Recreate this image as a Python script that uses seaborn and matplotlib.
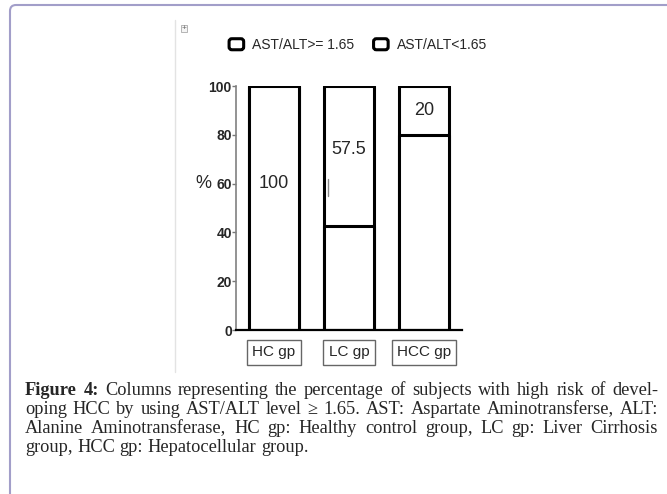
import matplotlib
matplotlib.use("Agg")
import matplotlib.pyplot as plt
import seaborn as sns
import pandas as pd
from matplotlib.patches import FancyBboxPatch, Rectangle, Patch
from matplotlib.lines import Line2D
from matplotlib.legend_handler import HandlerPatch
from matplotlib.transforms import IdentityTransform

# ---------------- data ----------------
groups = ["HC gp", "LC gp", "HCC gp"]
high_ratio = [100, 42.5, 80]          # AST/ALT >= 1.65 (lower segment)
low_ratio = [0, 57.5, 20]             # AST/ALT < 1.65 (upper segment)
bar_labels = ["100", "57.5", "20"]
series_names = ["AST/ALT>= 1.65", "AST/ALT<1.65"]
yticks = [0, 20, 40, 60, 80, 100]

caption_lines = [
    "Figure 4: Columns representing the percentage of subjects with high risk of devel-",
    "oping HCC by using AST/ALT level \u2265 1.65. AST: Aspartate Aminotransferse, ALT:",
    "Alanine Aminotransferase, HC gp: Healthy control group, LC gp: Liver Cirrhosis",
    "group, HCC gp: Hepatocellular group.",
]

# ---------------- figure ----------------
sns.set_theme(style="white")
plt.rcParams["font.family"] = ["Liberation Sans", "DejaVu Sans"]

W, H = 667, 494
fig = plt.figure(figsize=(W / 100, H / 100), dpi=100)
fig.patch.set_facecolor("white")

def fx(px):
    return px / W

def fy(py):
    return 1 - py / H

ax_l, ax_r, ax_t, ax_b = 236, 462, 86, 330
ax = fig.add_axes([fx(ax_l), fy(ax_b), fx(ax_r - ax_l), (ax_b - ax_t) / H])
ax.set_facecolor("white")

df = pd.DataFrame({
    "group": groups,
    "total": [a + b for a, b in zip(high_ratio, low_ratio)],
    "bottom": high_ratio,
})

bar_w = 50 / 75
lw = 2.2
sns.barplot(data=df, x="group", y="total", color="white", saturation=1,
            edgecolor="black", linewidth=lw, width=bar_w, ax=ax, zorder=2)
sns.barplot(data=df, x="group", y="bottom", color="white", saturation=1,
            edgecolor="black", linewidth=lw, width=bar_w, ax=ax, zorder=3)
for p in ax.patches:
    p.set_joinstyle("round")

ax.set_xlim(-0.507, 2.507)
ax.set_ylim(0, 100)
ax.set_yticks(yticks)
ax.set_yticklabels([str(v) for v in yticks], fontweight="bold", fontsize=10)
ax.tick_params(axis="y", length=3, width=1, color="#777777", pad=0, left=True)
ax.tick_params(axis="x", length=0, pad=11)
ax.set_xlabel("")
ax.set_ylabel("%", rotation=0, fontsize=13, va="center", ha="center")
ax.yaxis.set_label_coords(-0.145, 0.6)

for lab in ax.get_xticklabels():
    lab.set_fontsize(11)
    lab.set_bbox(dict(boxstyle="square,pad=0.35", fc="white", ec="#666666", lw=1))

for s in ["top", "right"]:
    ax.spines[s].set_visible(False)
ax.spines["left"].set_color("#808080")
ax.spines["left"].set_linewidth(1.2)
ax.spines["bottom"].set_color("black")
ax.spines["bottom"].set_linewidth(1.6)
ax.spines["bottom"].set_zorder(5)

# value labels inside bars
label_y = [60, 74, 90]
for i, (txt, yv) in enumerate(zip(bar_labels, label_y)):
    ax.text(i, yv, txt, ha="center", va="center", fontsize=13, zorder=6)

# small stray mark inside LC bar
fig.add_artist(Line2D([fx(328), fx(328)], [fy(179), fy(196)], color="#888888", lw=1))

# ---------------- legend ----------------
class RoundBox(HandlerPatch):
    def create_artists(self, legend, orig_handle, xdescent, ydescent,
                       width, height, fontsize, trans):
        p = FancyBboxPatch((-xdescent + 1.5, -ydescent + 0.5), width - 3, height - 1,
                           boxstyle="round,pad=0,rounding_size=2",
                           fc="white", ec="black", lw=2.2, transform=trans)
        return [p]

handles = [Patch(fc="white", ec="black", label=n) for n in series_names]
fig.legend(handles=handles, loc="center left", bbox_to_anchor=(fx(227), fy(45)),
           ncol=2, frameon=False, fontsize=10, borderpad=0, borderaxespad=0,
           handlelength=1.35, handleheight=1.0, handletextpad=0.45,
           columnspacing=1.25, handler_map={Patch: RoundBox()})

# ---------------- decorations ----------------
border = FancyBboxPatch((10, -30), 720, H - 5 + 30, boxstyle="round,pad=0,rounding_size=6",
                        fc="none", ec="#a29ec9", lw=1.5, transform=IdentityTransform())
fig.add_artist(border)

fig.add_artist(Line2D([fx(175), fx(175)], [fy(20), fy(372)], color="#e3e3e3", lw=1))
fig.add_artist(Rectangle((fx(181), fy(32)), fx(6), 7 / H, fc="#f4f4f4", ec="#aaaaaa", lw=0.6))
fig.text(fx(184), fy(28.5), "+", fontsize=6, ha="center", va="center", color="#666666")

# ---------------- caption (justified) ----------------
renderer = fig.canvas.get_renderer()
cap_left, cap_right = 25, 658
baselines = [395, 414, 433, 452]
cap_size = 13.2
serif = ["Liberation Serif", "DejaVu Serif"]

for li, (line, base) in enumerate(zip(caption_lines, baselines)):
    words = line.split(" ")
    arts = []
    for wi, w in enumerate(words):
        bold = (li == 0 and wi < 2)
        t = fig.text(0, fy(base), w, fontsize=cap_size, family=serif,
                     fontweight="bold" if bold else "normal", va="baseline", ha="left")
        arts.append(t)
    widths = [a.get_window_extent(renderer).width for a in arts]
    sp = fig.text(0, 0, "a a", fontsize=cap_size, family=serif)
    sa = fig.text(0, 0, "aa", fontsize=cap_size, family=serif)
    nat_gap = sp.get_window_extent(renderer).width - sa.get_window_extent(renderer).width
    sp.remove(); sa.remove()
    if li < len(caption_lines) - 1:
        gap = (cap_right - cap_left - sum(widths)) / (len(words) - 1)
        gap = max(gap, nat_gap * 0.6)
    else:
        gap = nat_gap
    x = cap_left
    for a, w in zip(arts, widths):
        a.set_x(fx(x))
        x += w + gap

fig.savefig("out.png", dpi=100, facecolor="white")
